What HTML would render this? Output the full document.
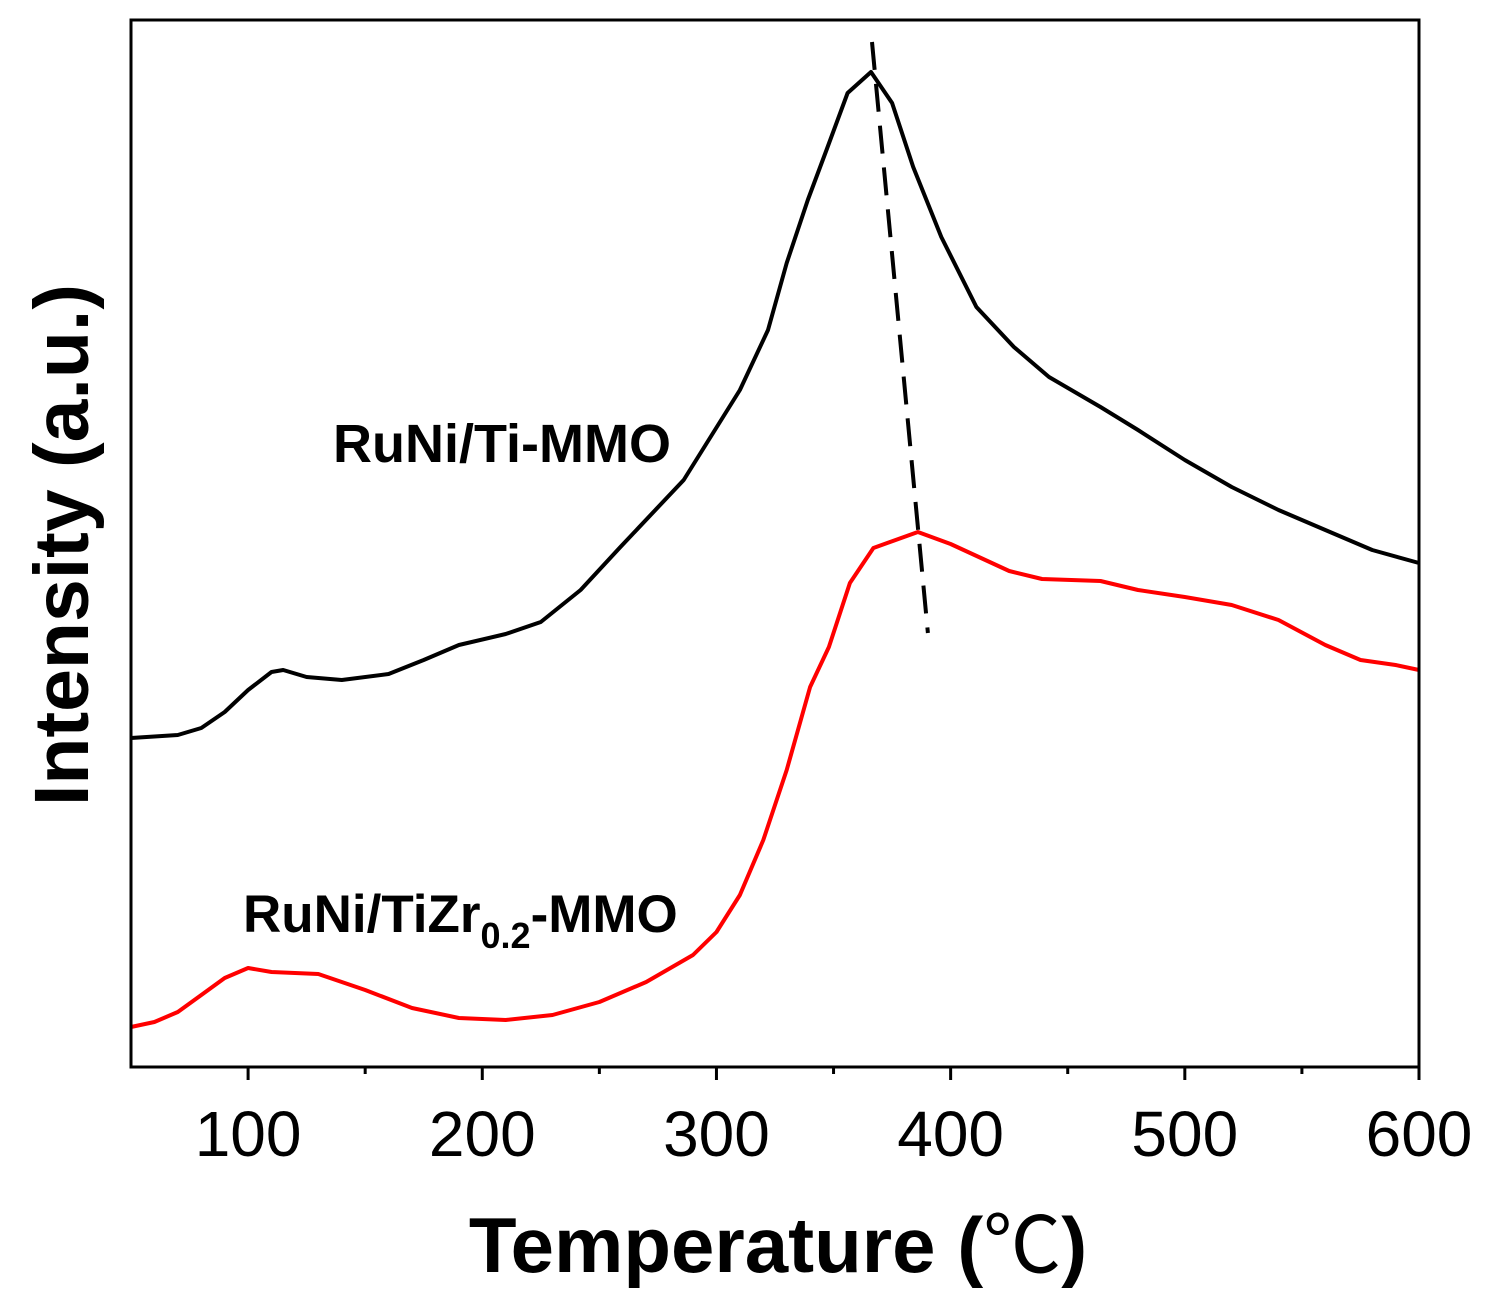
<!DOCTYPE html>
<html><head><meta charset="utf-8"><style>
html,body{margin:0;padding:0;background:#fff;}
svg{display:block;font-family:"Liberation Sans",Arial,sans-serif;}
</style></head><body>
<svg id="chart" width="1488" height="1308" viewBox="0 0 1488 1308">
<g id="plot"></g>
<rect x="131" y="20" width="1288" height="1047" fill="none" stroke="#000" stroke-width="3"/>
<g id="ticks"></g>
<text x="778" y="1272" text-anchor="middle" font-size="78" font-weight="bold">Temperature (<tspan font-weight="normal" font-family="'Noto Sans CJK SC',sans-serif">℃</tspan>)</text>
<text transform="translate(88,545) rotate(-90)" text-anchor="middle" font-size="77" font-weight="bold">Intensity (a.u.)</text>
<text x="333" y="462" font-size="54" font-weight="bold">RuNi/Ti-MMO</text>
<text x="243" y="932" font-size="53" font-weight="bold">RuNi/TiZr<tspan font-size="36" dy="16">0.2</tspan><tspan dy="-16">-MMO</tspan></text>
</svg>
<script>
const blackT=[50,70,80,90,100,110,115,125,140,160,175,190,210,225,242,259,286,310,322,330,339,347,356,366,375,384,396,411,427,442,464,480,500,520,540,560,580,600];
const blackV=[329,332,339,355,377,395,397,390,387,393,407,422,433,445,477,520,587,677,737,804,867,917,974,995,964,900,830,760,720,690,660,637,607,580,557,537,517,504];
const redT=[50,60,70,80,90,100,110,130,150,170,190,210,230,250,270,290,300,310,320,330,340,348,357,367,386,400,425,439,464,480,500,520,540,560,575,590,600];
const redV=[40,45,55,72,89,99,95,93,77,59,49,47,52,65,85,112,135,172,227,297,380,420,484,519,535,523,496,488,486,477,470,462,447,422,407,402,397];
const dashT=[366.4,390.3];
const dashV=[1025,434];
const xTicks=[100,200,300,400,500,600];
const xMinor=[150,250,350,450,550];
const ns="http://www.w3.org/2000/svg";
const X=t=>131+(t-50)*(1288/550);
const Y=v=>1067-v;
const plot=document.getElementById('plot'),tk=document.getElementById('ticks');
function line(T,V,color,name,dash){
  const p=document.createElementNS(ns,'path');
  p.setAttribute('d',T.map((t,i)=>(i?'L':'M')+X(t).toFixed(1)+','+Y(V[i]).toFixed(1)).join(''));
  p.setAttribute('fill','none');p.setAttribute('stroke',color);p.setAttribute('stroke-width',4);
  p.setAttribute('stroke-linejoin','round');
  if(dash)p.setAttribute('stroke-dasharray','28,14');
  
  
  plot.appendChild(p);
}
line(blackT,blackV,'#000','series-runi-ti-mmo');
line(redT,redV,'#ff0000','series-runi-tizr-mmo');
line(dashT,dashV,'#000','peak-shift-dashed-line',true);
xTicks.forEach(t=>{
  const l=document.createElementNS(ns,'line');
  l.setAttribute('x1',X(t));l.setAttribute('x2',X(t));l.setAttribute('y1',1067);l.setAttribute('y2',1080);
  l.setAttribute('stroke','#000');l.setAttribute('stroke-width',3);
  
  
  tk.appendChild(l);
  const s=document.createElementNS(ns,'text');
  s.setAttribute('x',X(t));s.setAttribute('y',1156);s.setAttribute('text-anchor','middle');s.setAttribute('font-size',64);
  s.textContent=t;
  
  
  tk.appendChild(s);
});
xMinor.forEach(t=>{
  const l=document.createElementNS(ns,'line');
  l.setAttribute('x1',X(t));l.setAttribute('x2',X(t));l.setAttribute('y1',1067);l.setAttribute('y2',1074);
  l.setAttribute('stroke','#000');l.setAttribute('stroke-width',3);
  
  
  tk.appendChild(l);
});
</script>
</body></html>
